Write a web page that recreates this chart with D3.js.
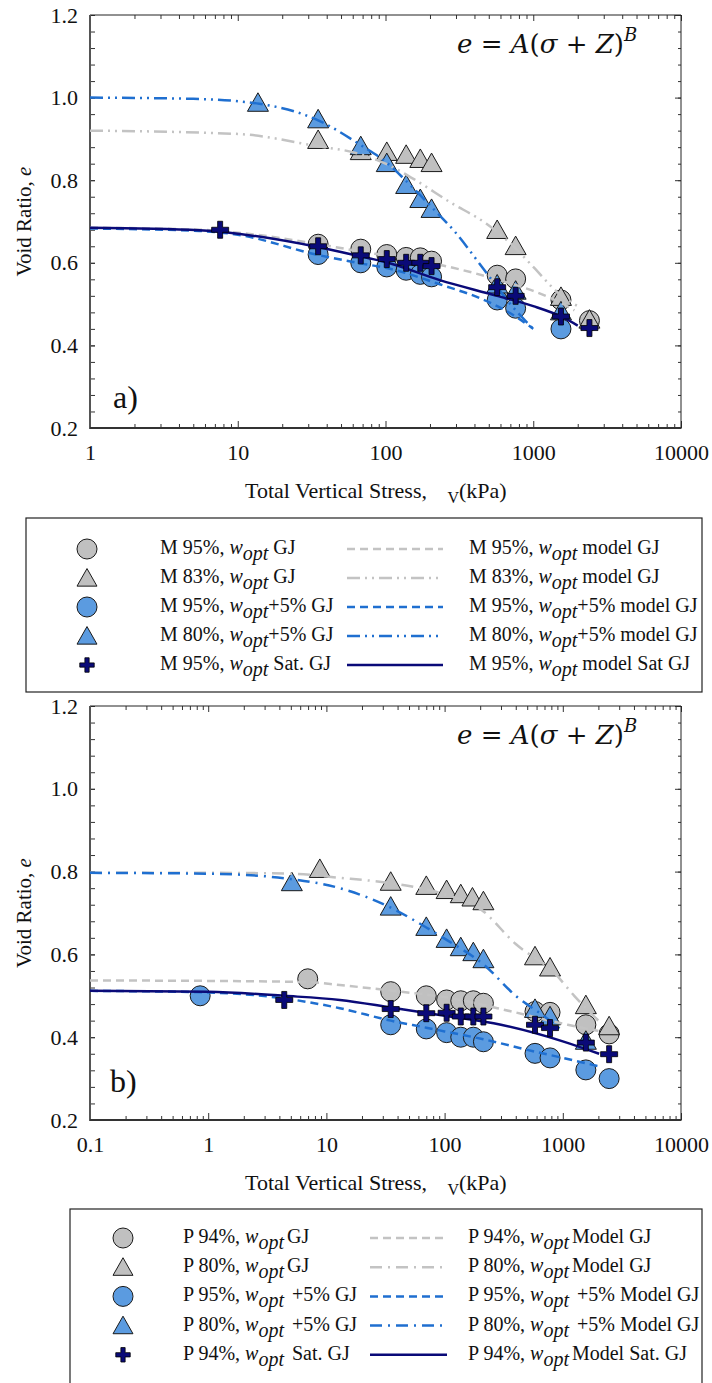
<!DOCTYPE html>
<html>
<head>
<meta charset="utf-8">
<script src="https://cdn.jsdelivr.net/npm/d3@7/dist/d3.min.js"></script>
<style>
  body { margin: 0; background: #fff; }
  svg { display: block; }
  svg text { font-family: "Liberation Serif", "Times New Roman", serif; }
</style>
</head>
<body>
<svg id="chart" width="712" height="1383"></svg>
<script>

// ---------- panel a) measured points  [stress kPa, void ratio]
var aGrayCircle = [[35,0.645],[68,0.633],[102,0.62],[138,0.613],[172,0.612],[205,0.604],[570,0.57],[760,0.561],[1540,0.51],[2400,0.46]];
var aGrayTri    = [[35,0.895],[68,0.868],[102,0.866],[138,0.859],[172,0.849],[205,0.839],[570,0.677],[760,0.638],[1540,0.515],[2400,0.46]];
var aBlueCircle = [[35,0.62],[68,0.60],[102,0.59],[138,0.582],[172,0.572],[205,0.566],[570,0.51],[760,0.49],[1540,0.44]];
var aBlueTri    = [[13.7,0.985],[35,0.945],[68,0.88],[102,0.839],[138,0.786],[172,0.752],[205,0.728],[570,0.545],[760,0.53],[1540,0.48]];
var aCross      = [[7.6,0.68],[35,0.64],[68,0.618],[102,0.609],[138,0.60],[172,0.60],[205,0.592],[570,0.541],[760,0.52],[1540,0.47],[2400,0.442]];

// ---------- panel a) model curves (read off the figure)
var aGrayModel  = [[1,0.685],[5.5,0.68],[10,0.673],[34,0.646],[69,0.627],[100,0.618],[200,0.6],[400,0.575],[700,0.55],[1000,0.532],[1500,0.505],[1900,0.485]];
var aGrayModel2 = [[1,0.92],[10,0.912],[35,0.882],[63,0.866],[100,0.84],[160,0.8],[270,0.748],[480,0.695],[760,0.635],[1000,0.59],[1500,0.525],[2000,0.495]];
var aBlueModel  = [[1,0.683],[5.5,0.677],[10,0.668],[34,0.62],[69,0.598],[100,0.588],[233,0.548],[500,0.505],[760,0.47],[1000,0.44]];
var aBlueModel2 = [[1,1.0],[5,0.997],[14,0.985],[35,0.945],[68,0.885],[100,0.845],[150,0.785],[205,0.735],[295,0.675],[450,0.59],[700,0.5],[1000,0.44]];
var aNavyModel  = [[1,0.685],[5.5,0.679],[34,0.639],[69,0.615],[100,0.602],[233,0.558],[570,0.52],[1000,0.495],[1540,0.47],[2000,0.448]];

// ---------- panel b) measured points
var bGrayCircle = [[6.95,0.541],[35,0.51],[70,0.50],[104,0.49],[137,0.488],[175,0.488],[213,0.482],[582,0.462],[780,0.46],[1567,0.43],[2466,0.408]];
var bGrayTri    = [[8.8,0.804],[35,0.773],[70,0.763],[104,0.753],[137,0.743],[172,0.735],[213,0.726],[582,0.593],[780,0.566],[1567,0.475],[2466,0.424]];
var bBlueCircle = [[0.855,0.50],[35,0.43],[70,0.42],[104,0.411],[137,0.40],[175,0.40],[213,0.389],[582,0.361],[780,0.35],[1567,0.321],[2466,0.30]];
var bBlueTri    = [[5.1,0.772],[35,0.713],[70,0.664],[104,0.635],[137,0.615],[175,0.603],[213,0.586],[582,0.466],[780,0.448],[1567,0.389]];
var bCross      = [[4.4,0.49],[35,0.468],[70,0.458],[104,0.459],[137,0.45],[175,0.45],[213,0.45],[582,0.43],[780,0.422],[1567,0.387],[2466,0.359]];

// ---------- panel b) model curves
var bGrayModel  = [[0.1,0.537],[1,0.536],[7,0.533],[13,0.526],[42,0.51],[100,0.497],[280,0.47],[1100,0.43],[2000,0.415]];
var bGrayModel2 = [[0.1,0.797],[1,0.797],[5,0.795],[13,0.785],[35,0.772],[70,0.757],[100,0.745],[200,0.71],[400,0.625],[850,0.555],[1250,0.5],[2000,0.44]];
var bBlueModel  = [[0.1,0.512],[1,0.508],[4.3,0.494],[13,0.47],[35,0.44],[70,0.423],[100,0.414],[213,0.395],[582,0.365],[1000,0.35],[2000,0.33]];
var bBlueModel2 = [[0.1,0.797],[1,0.795],[5,0.782],[13,0.76],[35,0.713],[70,0.665],[100,0.638],[215,0.575],[400,0.5],[700,0.45],[1000,0.415]];
var bNavyModel  = [[0.1,0.512],[1,0.51],[4.4,0.5],[13,0.49],[35,0.472],[100,0.452],[300,0.43],[1000,0.39],[2030,0.36]];

// ---------- legend labels  [before w_opt, after w_opt]
var aLegendLeft  = [["M 95%, ", " GJ"], ["M 83%, ", " GJ"], ["M 95%, ", "+5% GJ"], ["M 80%, ", "+5% GJ"], ["M 95%, ", " Sat. GJ"]];
var aLegendRight = [["M 95%, ", " model GJ"], ["M 83%, ", " model GJ"], ["M 95%, ", "+5% model GJ"], ["M 80%, ", "+5% model GJ"], ["M 95%, ", " model Sat GJ"]];
var bLegendLeft  = [["P 94%, ", "GJ"], ["P 80%, ", "GJ"], ["P 95%, ", " +5% GJ"], ["P 80%, ", " +5% GJ"], ["P 94%, ", "  Sat. GJ"]];
var bLegendRight = [["P 94%, ", "Model GJ"], ["P 80%, ", "Model GJ"], ["P 95%, ", " +5% Model GJ"], ["P 80%, ", " +5% Model GJ"], ["P 94%, ", "Model Sat. GJ"]];

var yTicks = [0.2, 0.4, 0.6, 0.8, 1.0, 1.2];

// colours and line styles
var grayFill = "#c0c0c0", blueFill = "#5b9be0", navy = "#0a0a78";
var grayLine = "#c3c3c3", blueLine = "#1f6fd0";
var dashed = "8,5", dashDotDot = "13,5,2,5,2,5", dashDot = "12,6,2,6";
var serif = "Liberation Serif";

var svg = d3.select("#chart");

function triPath(s) {
  return "M0," + (-11*s) + "L" + (10.5*s) + "," + (7.5*s) + "L" + (-10.5*s) + "," + (7.5*s) + "Z";
}
function crossPath(s) {
  var a = 8.5*s, b = 2.5*s;
  return "M" + (-b) + "," + (-a) + "H" + b + "V" + (-b) + "H" + a + "V" + b + "H" + b + "V" + a +
         "H" + (-b) + "V" + b + "H" + (-a) + "V" + (-b) + "H" + (-b) + "Z";
}

function drawPanel(cfg) {
  var left = 90, right = 681, top = cfg.top, bottom = cfg.bottom;

  var x = d3.scaleLog().domain(cfg.xDomain).range([left, right]);
  var y = d3.scaleLinear().domain([0.2, 1.2]).range([bottom, top]);

  var g = svg.append("g");

  // decade and minor log ticks
  var decades = [];
  var minors = [];
  for (var p = Math.log10(cfg.xDomain[0]); p <= Math.log10(cfg.xDomain[1]) + 1e-9; p++) {
    var v = Math.pow(10, p);
    decades.push(v);
    if (v < cfg.xDomain[1]) for (var k = 2; k <= 9; k++) minors.push(k * v);
  }
  var yMinor = d3.range(0.2, 1.2001, 0.04);

  g.append("g").attr("transform", "translate(0," + bottom + ")")
    .call(d3.axisBottom(x).tickValues(minors).tickSize(-4).tickFormat(""));
  g.append("g").attr("transform", "translate(0," + bottom + ")")
    .call(d3.axisBottom(x).tickValues(decades).tickSize(-7).tickPadding(16)
      .tickFormat(function(d) { return d < 1 ? d3.format(".1f")(d) : d3.format("d")(d); }));
  g.append("g").attr("transform", "translate(0," + top + ")")
    .call(d3.axisTop(x).tickValues(minors).tickSize(-4).tickFormat(""));
  g.append("g").attr("transform", "translate(0," + top + ")")
    .call(d3.axisTop(x).tickValues(decades).tickSize(-6).tickFormat(""));

  g.append("g").attr("transform", "translate(" + left + ",0)")
    .call(d3.axisLeft(y).tickValues(yMinor).tickSize(-5).tickFormat(""));
  g.append("g").attr("transform", "translate(" + left + ",0)")
    .call(d3.axisLeft(y).tickValues(yTicks).tickSize(-5).tickPadding(12).tickFormat(d3.format(".1f")));
  g.append("g").attr("transform", "translate(" + right + ",0)")
    .call(d3.axisRight(y).tickValues(yMinor).tickSize(-3).tickFormat(""));
  g.append("g").attr("transform", "translate(" + right + ",0)")
    .call(d3.axisRight(y).tickValues(yTicks).tickSize(-6).tickFormat(""));

  g.selectAll(".domain").remove();
  g.selectAll("g").attr("font-family", serif);
  g.selectAll(".tick line").attr("stroke", "#333").attr("stroke-width", 1);
  g.selectAll(".tick text").style("font-family", serif).style("font-size", "22px").attr("fill", "#111");

  // frame
  g.append("line").attr("x1", left).attr("x2", right).attr("y1", top).attr("y2", top).attr("stroke", "#222").attr("stroke-width", 1);
  g.append("line").attr("x1", right).attr("x2", right).attr("y1", top).attr("y2", bottom).attr("stroke", "#222").attr("stroke-width", 1);
  g.append("line").attr("x1", left).attr("x2", left).attr("y1", top).attr("y2", bottom + 1).attr("stroke", "#555").attr("stroke-width", 2);
  g.append("line").attr("x1", left).attr("x2", right + 0.5).attr("y1", bottom).attr("y2", bottom).attr("stroke", "#333").attr("stroke-width", 2);

  // markers (under the curves)
  function circles(data, fill) {
    g.append("g").selectAll("circle").data(data).join("circle")
      .attr("cx", function(d) { return x(d[0]); })
      .attr("cy", function(d) { return y(d[1]); })
      .attr("r", 10).attr("fill", fill).attr("stroke", "#1a1a1a").attr("stroke-width", 1);
  }
  function triangles(data, fill) {
    g.append("g").selectAll("path").data(data).join("path")
      .attr("transform", function(d) { return "translate(" + x(d[0]) + "," + y(d[1]) + ")"; })
      .attr("d", triPath(1)).attr("fill", fill).attr("stroke", "#1a1a1a").attr("stroke-width", 1);
  }
  circles(cfg.grayCircle, grayFill);
  triangles(cfg.grayTri, grayFill);
  circles(cfg.blueCircle, blueFill);
  triangles(cfg.blueTri, blueFill);

  // model curves
  var valueline = d3.line()
    .x(function(d) { return x(d[0]); })
    .y(function(d) { return y(d[1]); })
    .curve(d3.curveMonotoneX);

  cfg.models.forEach(function(m) {
    g.append("path").datum(m.data).attr("d", valueline)
      .attr("fill", "none").attr("stroke", m.color).attr("stroke-width", m.width || 2.5)
      .attr("stroke-dasharray", m.dash);
  });

  // crosses on top
  g.append("g").selectAll("path").data(cfg.cross).join("path")
    .attr("transform", function(d) { return "translate(" + x(d[0]) + "," + y(d[1]) + ")"; })
    .attr("d", crossPath(1)).attr("fill", navy).attr("stroke", "#000").attr("stroke-width", 0.8);

  // equation
  var eq = g.append("text").attr("x", 457).attr("y", top + 38).style("font-size", "26px")
    .style("font-family", "DejaVu Serif, serif").attr("fill", "#111");
  eq.append("tspan").attr("font-style", "italic").text("e");
  eq.append("tspan").text(" = ");
  eq.append("tspan").attr("font-style", "italic").text("A");
  eq.append("tspan").text("(");
  eq.append("tspan").attr("font-style", "italic").text("σ");
  eq.append("tspan").text(" + ");
  eq.append("tspan").attr("font-style", "italic").text("Z");
  eq.append("tspan").text(")");
  eq.append("tspan").attr("font-style", "italic").style("font-size", "18px").attr("dy", -12).text("B");

  // panel letter
  g.append("text").attr("x", cfg.letterX).attr("y", bottom - cfg.letterDy)
    .style("font-size", "32px").attr("fill", "#111").text(cfg.letter);

  // axis titles
  var xt = g.append("text").attr("x", 245).attr("y", bottom + 70).style("font-size", "22px").attr("fill", "#111");
  xt.append("tspan").text("Total Vertical Stress, ");
  xt.append("tspan").attr("dx", 15).attr("dy", 5).style("font-size", "16px").text("V");
  xt.append("tspan").attr("dx", 0).attr("dy", -5).text("(kPa)");

  var yt = g.append("text").attr("transform", "translate(31," + ((top + bottom) / 2) + ") rotate(-90)")
    .attr("text-anchor", "middle").style("font-size", "21px").attr("fill", "#111");
  yt.append("tspan").text("Void Ratio, ");
  yt.append("tspan").attr("font-style", "italic").text("e");
}

function drawLegend(cfg) {
  var g = svg.append("g");
  g.append("rect").attr("x", cfg.x0).attr("y", cfg.y0).attr("width", cfg.x1 - cfg.x0).attr("height", cfg.y1 - cfg.y0)
    .attr("fill", "#fff").attr("stroke", "#222").attr("stroke-width", 1.2);

  var marks = [
    {shape: "c", fill: grayFill, color: grayLine, dash: dashed},
    {shape: "t", fill: grayFill, color: grayLine, dash: cfg.dash2},
    {shape: "c", fill: blueFill, color: blueLine, dash: dashed},
    {shape: "t", fill: blueFill, color: blueLine, dash: cfg.dash2},
    {shape: "x", fill: navy, color: navy, dash: null}
  ];

  marks.forEach(function(m, i) {
    var cy = cfg.rowY + i * cfg.rowH;
    if (m.shape === "c") {
      g.append("circle").attr("cx", cfg.mx).attr("cy", cy).attr("r", 10)
        .attr("fill", m.fill).attr("stroke", "#1a1a1a");
    } else if (m.shape === "t") {
      g.append("path").attr("transform", "translate(" + cfg.mx + "," + (cy + 1) + ")")
        .attr("d", triPath(0.95)).attr("fill", m.fill).attr("stroke", "#1a1a1a");
    } else {
      g.append("path").attr("transform", "translate(" + cfg.mx + "," + cy + ")")
        .attr("d", crossPath(0.85)).attr("fill", m.fill).attr("stroke", "#000").attr("stroke-width", 0.8);
    }
    g.append("line").attr("x1", cfg.l1).attr("x2", cfg.l2).attr("y1", cy).attr("y2", cy)
      .attr("stroke", m.color).attr("stroke-width", 2.5).attr("stroke-dasharray", m.dash);

    [[cfg.tx, cfg.left[i]], [cfg.rx, cfg.right[i]]].forEach(function(t) {
      var txt = g.append("text").attr("x", t[0]).attr("y", cy + 5).style("font-size", "20px").attr("fill", "#111");
      txt.append("tspan").text(t[1][0]);
      txt.append("tspan").attr("font-style", "italic").text("w");
      txt.append("tspan").attr("font-style", "italic").attr("dy", 6).text("opt");
      txt.append("tspan").attr("dy", -6).attr("dx", cfg.gap).text(t[1][1]);
    });
  });
}

drawPanel({
  top: 15, bottom: 428, xDomain: [1, 10000], letter: "a)", letterX: 113, letterDy: 20,
  grayCircle: aGrayCircle, grayTri: aGrayTri, blueCircle: aBlueCircle, blueTri: aBlueTri, cross: aCross,
  models: [
    {data: aGrayModel, color: grayLine, dash: dashed},
    {data: aGrayModel2, color: grayLine, dash: dashDotDot},
    {data: aBlueModel, color: blueLine, dash: dashed},
    {data: aBlueModel2, color: blueLine, dash: dashDotDot},
    {data: aNavyModel, color: navy, dash: null}
  ]
});

drawLegend({
  x0: 26, y0: 518, x1: 702, y1: 692, mx: 87, tx: 160, l1: 347, l2: 443, rx: 469,
  rowY: 549, rowH: 29, gap: 0, dash2: dashDotDot, left: aLegendLeft, right: aLegendRight
});

drawPanel({
  top: 706, bottom: 1120, xDomain: [0.1, 10000], letter: "b)", letterX: 110, letterDy: 28,
  grayCircle: bGrayCircle, grayTri: bGrayTri, blueCircle: bBlueCircle, blueTri: bBlueTri, cross: bCross,
  models: [
    {data: bGrayModel, color: grayLine, dash: dashed},
    {data: bGrayModel2, color: grayLine, dash: dashDot},
    {data: bBlueModel, color: blueLine, dash: dashed},
    {data: bBlueModel2, color: blueLine, dash: dashDot},
    {data: bNavyModel, color: navy, dash: null}
  ]
});

drawLegend({
  x0: 70, y0: 1209, x1: 702, y1: 1400, mx: 123, tx: 183, l1: 370, l2: 447, rx: 468,
  rowY: 1238, rowH: 29.2, gap: 3, dash2: dashDot, left: bLegendLeft, right: bLegendRight
});

</script>
</body>
</html>
